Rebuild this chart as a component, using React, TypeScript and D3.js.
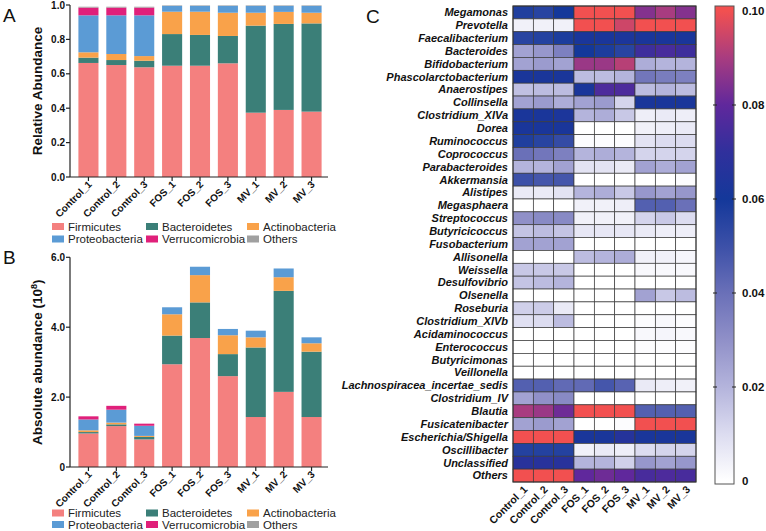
import React from "react";
import * as d3 from "d3";

const samples = ["Control_1", "Control_2", "Control_3", "FOS_1", "FOS_2", "FOS_3", "MV_1", "MV_2", "MV_3"];
const phyla = ["Firmicutes", "Bacteroidetes", "Actinobacteria", "Proteobacteria", "Verrucomicrobia", "Others"];
const phylaColors = ["#f4807f", "#3b7f78", "#f9a24a", "#5b9bd5", "#e0207a", "#a0a0a0"];

// Panel A: relative abundance (segment sizes)
const relFirmicutes = [0.663, 0.651, 0.638, 0.647, 0.647, 0.661, 0.374, 0.39, 0.38];
const relBacteroidetes = [0.031, 0.029, 0.038, 0.184, 0.179, 0.159, 0.506, 0.5, 0.513];
const relActinobacteria = [0.031, 0.035, 0.027, 0.13, 0.135, 0.135, 0.075, 0.07, 0.062];
const relProteobacteria = [0.215, 0.225, 0.237, 0.034, 0.034, 0.04, 0.04, 0.035, 0.04];
const relVerrucomicrobia = [0.045, 0.045, 0.045, 0, 0, 0, 0, 0, 0];
const relOthers = [0.005, 0.005, 0.005, 0.003, 0.003, 0.003, 0.003, 0.003, 0.003];

// Panel B: absolute abundance (10^8)
const absFirmicutes = [0.96, 1.17, 0.79, 2.94, 3.69, 2.6, 1.43, 2.15, 1.43];
const absBacteroidetes = [0.04, 0.05, 0.07, 0.82, 1.02, 0.63, 1.99, 2.89, 1.87];
const absActinobacteria = [0.05, 0.05, 0.03, 0.61, 0.78, 0.54, 0.29, 0.39, 0.24];
const absProteobacteria = [0.31, 0.37, 0.29, 0.2, 0.24, 0.18, 0.19, 0.25, 0.17];
const absVerrucomicrobia = [0.09, 0.11, 0.06, 0, 0, 0, 0, 0, 0];
const absOthers = [0, 0, 0, 0, 0, 0, 0, 0, 0];

const relTicks = [0, 0.2, 0.4, 0.6, 0.8, 1.0];
const absTicks = [0, 2, 4, 6];
const absTickLabels = ["0", "2.0", "4.0", "6.0"];

// Panel C heatmap
const genera = [
  "Megamonas", "Prevotella", "Faecalibacterium", "Bacteroides", "Bifidobacterium",
  "Phascolarctobacterium", "Anaerostipes", "Collinsella", "Clostridium_XIVa", "Dorea",
  "Ruminococcus", "Coprococcus", "Parabacteroides", "Akkermansia", "Alistipes",
  "Megasphaera", "Streptococcus", "Butyricicoccus", "Fusobacterium", "Allisonella",
  "Weissella", "Desulfovibrio", "Olsenella", "Roseburia", "Clostridium_XlVb",
  "Acidaminococcus", "Enterococcus", "Butyricimonas", "Veillonella",
  "Lachnospiracea_incertae_sedis", "Clostridium_IV", "Blautia", "Fusicatenibacter",
  "Escherichia/Shigella", "Oscillibacter", "Unclassified", "Others",
];
const heatValues = [
  [0.057, 0.055, 0.06, 0.1, 0.1, 0.1, 0.085, 0.09, 0.085],
  [0.004, 0.004, 0.004, 0.1, 0.1, 0.095, 0.1, 0.1, 0.1],
  [0.055, 0.056, 0.058, 0.062, 0.062, 0.063, 0.062, 0.062, 0.062],
  [0.025, 0.028, 0.035, 0.06, 0.058, 0.055, 0.073, 0.075, 0.073],
  [0.025, 0.027, 0.025, 0.088, 0.088, 0.092, 0.022, 0.02, 0.02],
  [0.062, 0.062, 0.062, 0.018, 0.018, 0.02, 0.038, 0.036, 0.035],
  [0.017, 0.018, 0.018, 0.062, 0.076, 0.076, 0.018, 0.02, 0.018],
  [0.025, 0.027, 0.022, 0.025, 0.027, 0.012, 0.062, 0.062, 0.062],
  [0.062, 0.062, 0.063, 0.02, 0.022, 0.015, 0.005, 0.006, 0.005],
  [0.062, 0.062, 0.062, 0, 0, 0, 0.004, 0.005, 0.006],
  [0.057, 0.055, 0.052, 0.001, 0.001, 0.001, 0.008, 0.01, 0.01],
  [0.04, 0.038, 0.035, 0.02, 0.022, 0.02, 0.012, 0.012, 0.012],
  [0.02, 0.02, 0.025, 0.008, 0.008, 0.006, 0.025, 0.022, 0.025],
  [0.05, 0.048, 0.048, 0, 0, 0, 0, 0, 0.001],
  [0.006, 0.006, 0.008, 0.02, 0.022, 0.015, 0.028, 0.025, 0.028],
  [0, 0, 0, 0.004, 0.004, 0.005, 0.045, 0.045, 0.04],
  [0.03, 0.032, 0.032, 0.004, 0.004, 0.004, 0.012, 0.015, 0.01],
  [0.016, 0.018, 0.016, 0.007, 0.007, 0.007, 0.006, 0.005, 0.005],
  [0.025, 0.025, 0.025, 0, 0, 0, 0, 0, 0],
  [0, 0, 0, 0.018, 0.02, 0.022, 0.004, 0.004, 0.003],
  [0.015, 0.015, 0.015, 0, 0, 0, 0.002, 0.002, 0.002],
  [0.016, 0.018, 0.02, 0, 0, 0, 0, 0, 0],
  [0, 0, 0, 0, 0, 0, 0.025, 0.015, 0.018],
  [0.013, 0.014, 0.006, 0, 0, 0, 0, 0, 0],
  [0.009, 0.01, 0.018, 0, 0, 0, 0.001, 0.002, 0.001],
  [0, 0, 0, 0, 0, 0, 0.002, 0.003, 0.002],
  [0, 0, 0, 0, 0, 0, 0.001, 0.001, 0.001],
  [0, 0, 0, 0, 0, 0, 0, 0, 0],
  [0, 0, 0, 0, 0, 0, 0, 0, 0],
  [0.045, 0.045, 0.042, 0.042, 0.048, 0.044, 0.006, 0.005, 0.004],
  [0.025, 0.03, 0.032, 0, 0, 0, 0, 0, 0],
  [0.09, 0.088, 0.082, 0.1, 0.1, 0.1, 0.045, 0.045, 0.045],
  [0.025, 0.027, 0.025, 0, 0, 0.001, 0.1, 0.1, 0.1],
  [0.1, 0.1, 0.1, 0.062, 0.062, 0.066, 0.062, 0.062, 0.062],
  [0.056, 0.056, 0.056, 0.004, 0.006, 0.005, 0.01, 0.012, 0.012],
  [0.067, 0.067, 0.067, 0.02, 0.02, 0.013, 0.028, 0.025, 0.028],
  [0.1, 0.1, 0.1, 0.08, 0.082, 0.08, 0.075, 0.076, 0.075],
];
const colorStops = [0, 0.01, 0.02, 0.03, 0.04, 0.05, 0.06, 0.07, 0.08, 0.09, 0.1];
const colorStopColors = ["#ffffff", "#dcdcf0", "#b4b4dc", "#9090c8", "#6a70b8", "#3c50a8", "#14389a", "#30309c", "#60289c", "#a83c80", "#f25050"];
const cbTicks = [0, 0.02, 0.04, 0.06, 0.08, 0.1];
const cbTickLabels = ["0", "0.02", "0.04", "0.06", "0.08", "0.10"];

const FONT = "'Liberation Sans', Arial, sans-serif";

function StackedPanel({ series, yDomain, yTop, yBottom, ticks, tickLabels, title, superscript }: any) {
  const x = d3.scaleBand().domain(samples).range([74.5, 325.5]).paddingInner(0.28).paddingOuter(0.14);
  const y = d3.scaleLinear().domain(yDomain).range([yBottom, yTop]);
  const rows = samples.map((s, i) => {
    const o: any = { sample: s };
    phyla.forEach((p, j) => (o[p] = series[j][i]));
    return o;
  });
  const stack = d3.stack().keys(phyla)(rows as any);
  const axisX = 70;
  return (
    <g>
      {stack.map((layer: any, j: number) => (
        <g key={phyla[j]} fill={phylaColors[j]}>
          {layer.map((d: any, i: number) =>
            d[1] - d[0] > 0 ? (
              <rect key={i} x={x(samples[i])} width={x.bandwidth()} y={y(d[1])} height={y(d[0]) - y(d[1])} />
            ) : null
          )}
        </g>
      ))}
      <line x1={axisX} x2={axisX} y1={y(yDomain[1])} y2={yBottom} stroke="#222" strokeWidth={1.2} />
      <line x1={axisX} x2={328} y1={yBottom} y2={yBottom} stroke="#222" strokeWidth={1.2} />
      {ticks.map((t: number, i: number) => (
        <g key={t}>
          <line x1={axisX - 4} x2={axisX} y1={y(t)} y2={y(t)} stroke="#222" strokeWidth={1.2} />
          <text x={axisX - 5} y={y(t)} dy="0.35em" textAnchor="end" fontSize={10} fontWeight="bold" fontFamily={FONT} fill="#111">
            {tickLabels[i]}
          </text>
        </g>
      ))}
      {samples.map((s) => {
        const cx = (x(s) as number) + x.bandwidth() / 2;
        return (
          <g key={s}>
            <line x1={cx} x2={cx} y1={yBottom} y2={yBottom + 4} stroke="#222" strokeWidth={1.2} />
            <text transform={`translate(${cx + 4},${yBottom + 8}) rotate(-45)`} textAnchor="end" fontSize={10} fontWeight="bold" fontFamily={FONT} fill="#111">
              {s}
            </text>
          </g>
        );
      })}
      <text transform={`translate(42,${(yTop + yBottom) / 2}) rotate(-90)`} textAnchor="middle" fontSize={13.5} fontFamily={FONT} fill="#111" fontWeight="bold">
        {title}
        {superscript ? (
          <>
            <tspan dy={-5} fontSize={9}>{superscript}</tspan>
            <tspan dy={5}>)</tspan>
          </>
        ) : null}
      </text>
    </g>
  );
}

function Legend({ y1, y2 }: { y1: number; y2: number }) {
  const cols = [52, 146, 247];
  return (
    <g>
      {phyla.map((p, i) => {
        const cx = cols[i % 3];
        const cy = i < 3 ? y1 : y2;
        return (
          <g key={p}>
            <rect x={cx} y={cy - 3.5} width={12} height={7} fill={phylaColors[i]} />
            <text x={cx + 16} y={cy} dy="0.35em" fontSize={11.5} fontFamily={FONT} fill="#222">
              {p}
            </text>
          </g>
        );
      })}
    </g>
  );
}

function Heatmap() {
  const x = d3.scaleBand().domain(samples).range([513, 696]);
  const y = d3.scaleBand().domain(genera).range([6, 482]);
  const color = d3.scaleLinear<string>().domain(colorStops).range(colorStopColors).interpolate(d3.interpolateRgb).clamp(true);
  const cb = d3.scaleLinear().domain([0, 0.1]).range([481, 11]);
  const cbGrad = colorStops.map((v, i) => ({ offset: ((cb(v) - 6) / (484 - 6)), color: colorStopColors[i] }));
  return (
    <g>
      <defs>
        <linearGradient id="cbgrad" x1="0" x2="0" y1="0" y2="1">
          <stop offset={0} stopColor={colorStopColors[colorStopColors.length - 1]} />
          {cbGrad.slice().reverse().map((s, i) => (
            <stop key={i} offset={s.offset} stopColor={s.color} />
          ))}
          <stop offset={1} stopColor={colorStopColors[0]} />
        </linearGradient>
      </defs>
      {genera.map((g, r) => (
        <g key={g}>
          {samples.map((s, c) => (
            <rect key={s} x={x(s)} y={y(g)} width={x.bandwidth()} height={y.bandwidth()} fill={color(heatValues[r][c])} stroke="#3a3a3a" strokeWidth={0.7} />
          ))}
          <text x={508} y={(y(g) as number) + y.bandwidth() / 2} dy="0.35em" textAnchor="end" fontSize={11} fontWeight="bold" fontStyle="italic" fontFamily={FONT} fill="#111">
            {g}
          </text>
        </g>
      ))}
      <rect x={513} y={6} width={183} height={476} fill="none" stroke="#333" strokeWidth={1} />
      {samples.map((s) => {
        const cx = (x(s) as number) + x.bandwidth() / 2;
        return (
          <text key={s} transform={`translate(${cx + 5},${490}) rotate(-45)`} textAnchor="end" fontSize={10.5} fontWeight="bold" fontFamily={FONT} fill="#111">
            {s}
          </text>
        );
      })}
      <rect x={715} y={6} width={19} height={478} fill="url(#cbgrad)" stroke="#555" strokeWidth={1} />
      {cbTicks.map((t, i) => (
        <g key={t}>
          {t > 0 && t < 0.1 ? (
            <>
              <line x1={713} x2={717} y1={cb(t)} y2={cb(t)} stroke="#222" strokeWidth={1} />
              <line x1={732} x2={736} y1={cb(t)} y2={cb(t)} stroke="#222" strokeWidth={1} />
            </>
          ) : null}
          <text x={742} y={cb(t)} dy="0.35em" fontSize={11.5} fontWeight="bold" fontFamily={FONT} fill="#111">
            {cbTickLabels[i]}
          </text>
        </g>
      ))}
    </g>
  );
}

export default function App() {
  const relSeries = [relFirmicutes, relBacteroidetes, relActinobacteria, relProteobacteria, relVerrucomicrobia, relOthers];
  const absSeries = [absFirmicutes, absBacteroidetes, absActinobacteria, absProteobacteria, absVerrucomicrobia, absOthers];
  return (
    <svg width={766} height={531} style={{ position: "absolute", left: 0, top: 0, background: "#fff" }}>
      <rect width={766} height={531} fill="#fff" />
      <text x={3} y={22} fontSize={19} fontFamily={FONT} fill="#111">A</text>
      <text x={3} y={264} fontSize={19} fontFamily={FONT} fill="#111">B</text>
      <text x={366} y={23} fontSize={19} fontFamily={FONT} fill="#111">C</text>
      <StackedPanel series={relSeries} yDomain={[0, 1]} yTop={5} yBottom={177} ticks={relTicks} tickLabels={relTicks.map((t) => t.toFixed(1))} title="Relative Abundance" />
      <Legend y1={226.5} y2={239} />
      <StackedPanel series={absSeries} yDomain={[0, 6]} yTop={257.3} yBottom={467} ticks={absTicks} tickLabels={absTickLabels} title="Absolute abundance (10" superscript="8" />
      <Legend y1={513} y2={524.5} />
      <Heatmap />
    </svg>
  );
}
